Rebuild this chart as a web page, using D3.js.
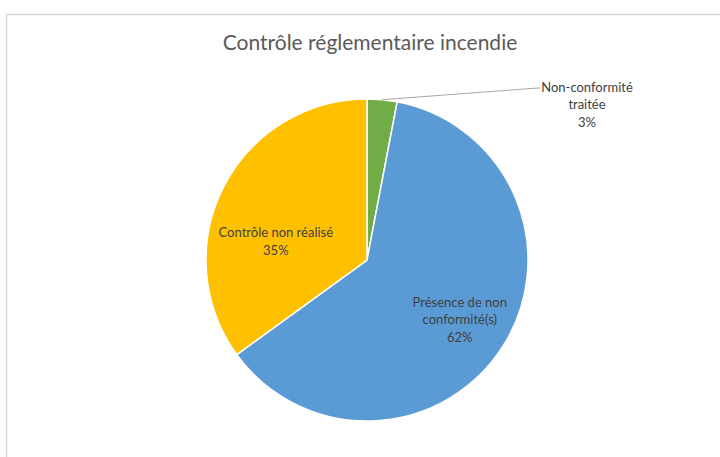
<!DOCTYPE html>
<html>
<head>
<meta charset="utf-8">
<script src="https://cdn.jsdelivr.net/npm/d3@7"></script>
<style>
  body { margin: 0; background: #fff; }
  text { font-family: Lato, "Open Sans", sans-serif; }
</style>
</head>
<body>
<script>
'use strict';

// chart data
const categories = ["Non-conformité traitée", "Présence de non conformité(s)", "Contrôle non réalisé"];
const labelLines = [["Non-conformité", "traitée"], ["Présence de non", "conformité(s)"], ["Contrôle non réalisé"]];
const values = [3, 62, 35];
const colors = ["#70AD47", "#5B9BD5", "#FFC000"];

(function() {
  const width = 720, height = 457;
  const cx = 367, cy = 260, radius = 161;

  const svg = d3.select('body')
    .append('svg')
    .attr('width', width)
    .attr('height', height);

  // chart area border (runs off the right and bottom)
  svg.append('rect')
    .attr('x', 6.5)
    .attr('y', 14.5)
    .attr('width', 800)
    .attr('height', 600)
    .attr('fill', '#fff')
    .attr('stroke', '#D9D9D9')
    .attr('stroke-width', 1.5);

  // title
  svg.append('text')
    .attr('x', 370)
    .attr('y', 50)
    .attr('text-anchor', 'middle')
    .attr('fill', '#595959')
    .attr('font-size', '21px')
    .text('Contrôle réglementaire incendie');

  const total = d3.sum(values);
  const pie = d3.pie().sort(null).value(d => d);
  const arcs = pie(values);

  const arc = d3.arc().innerRadius(0).outerRadius(radius);

  const g = svg.append('g')
    .attr('transform', 'translate(' + cx + ',' + cy + ')');

  g.selectAll('path')
    .data(arcs)
    .enter()
    .append('path')
      .attr('d', arc)
      .attr('fill', (d, i) => colors[i])
      .attr('stroke', '#fff')
      .attr('stroke-width', 1.5);

  // polar helper, angle measured clockwise from 12 o'clock
  function polar(r, a) {
    return [r * Math.sin(a), -r * Math.cos(a)];
  }

  const lineH = 17.5;

  arcs.forEach((d, i) => {
    const mid = (d.startAngle + d.endAngle) / 2;
    const lines = labelLines[i].concat([Math.round(values[i] / total * 100) + '%']);
    let lx, ly; // centre of the text block

    if (i === 0) {
      // small slice: label outside with a leader line
      const p0 = polar(radius, mid);
      lx = 220;
      ly = -155;
      g.append('polyline')
        .attr('points', [p0, [lx - 49, ly - 17], [lx - 47, ly - 17]].map(p => p.join(',')).join(' '))
        .attr('fill', 'none')
        .attr('stroke', '#A6A6A6')
        .attr('stroke-width', 1);
    } else if (i === 1) {
      const p = polar(radius * 0.6, mid + 0.12);
      lx = p[0] + 18;
      ly = p[1] - 1;
    } else {
      const p = polar(radius * 0.66, mid - 0.33);
      lx = p[0] + 14;
      ly = p[1] - 3;
    }

    const t = g.append('text')
      .attr('text-anchor', 'middle')
      .attr('fill', '#404040')
      .attr('font-size', '13px');

    lines.forEach((s, j) => {
      t.append('tspan')
        .attr('x', lx)
        .attr('y', ly + (j - (lines.length - 1) / 2) * lineH + 4)
        .text(s);
    });
  });
})();
</script>
</body>
</html>
